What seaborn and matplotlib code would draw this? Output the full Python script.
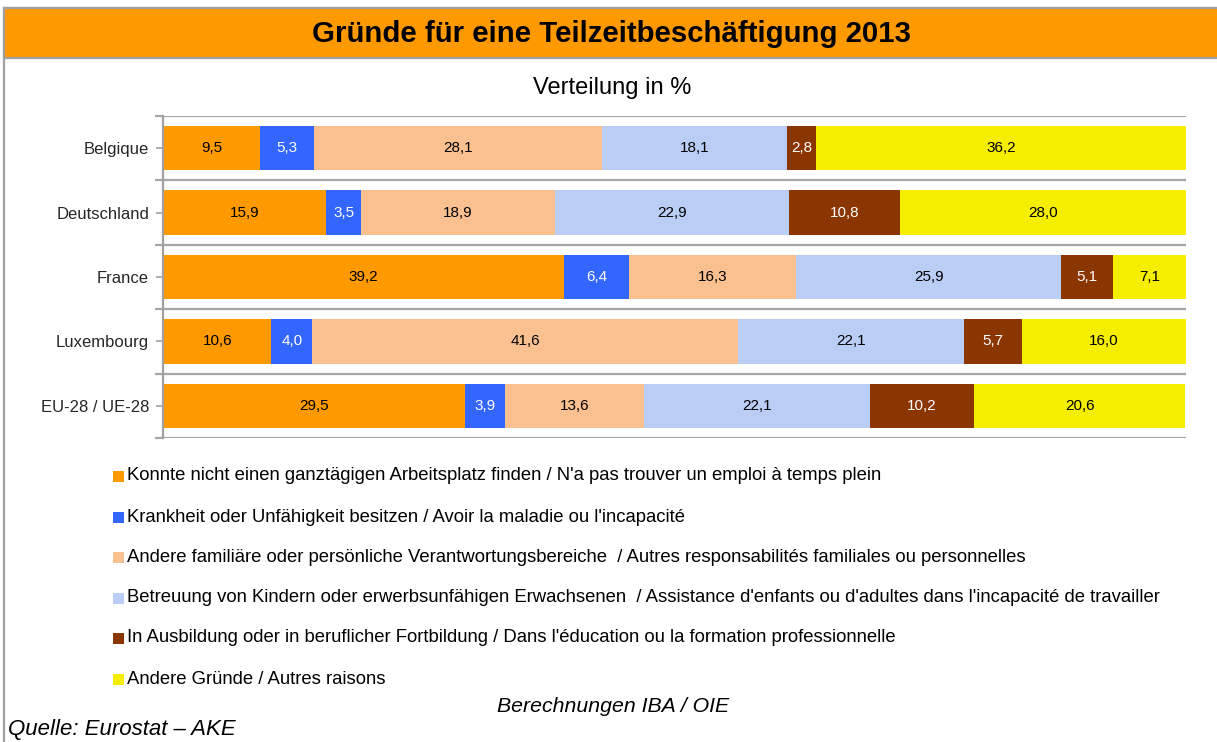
import matplotlib
matplotlib.use("Agg")
import matplotlib.pyplot as plt
from matplotlib.patches import Rectangle
import numpy as np
import pandas as pd
import seaborn as sns

sns.set_theme(style="white")
plt.rcParams['font.family'] = ['Liberation Sans', 'DejaVu Sans']

countries = ["Belgique", "Deutschland", "France", "Luxembourg", "EU-28 / UE-28"]
series_names = [
    "Konnte nicht einen ganztägigen Arbeitsplatz finden / N'a pas trouver un emploi à temps plein",
    "Krankheit oder Unfähigkeit besitzen / Avoir la maladie ou l'incapacité",
    "Andere familiäre oder persönliche Verantwortungsbereiche  / Autres responsabilités familiales ou personnelles",
    "Betreuung von Kindern oder erwerbsunfähigen Erwachsenen  / Assistance d'enfants ou d'adultes dans l'incapacité de travailler",
    "In Ausbildung oder in beruflicher Fortbildung / Dans l'éducation ou la formation professionnelle",
    "Andere Gründe / Autres raisons",
]
job_not_found = [9.5, 15.9, 39.2, 10.6, 29.5]
illness = [5.3, 3.5, 6.4, 4.0, 3.9]
family = [28.1, 18.9, 16.3, 41.6, 13.6]
care = [18.1, 22.9, 25.9, 22.1, 22.1]
education = [2.8, 10.8, 5.1, 5.7, 10.2]
other = [36.2, 28.0, 7.1, 16.0, 20.6]

colors = ["#FF9900", "#3366FF", "#FAC090", "#B9CDF5", "#8B3500", "#F5EE00"]
label_colors = ["black", "white", "black", "black", "white", "black"]

series = [job_not_found, illness, family, care, education, other]
df = pd.DataFrame({"country": countries})
for name, vals in zip(series_names, series):
    df[name] = vals
cum = df[series_names].cumsum(axis=1)

W, H = 1217, 742
fig = plt.figure(figsize=(W / 100, H / 100), dpi=100)

# frame / title bar
fig.patches.append(Rectangle((4 / W, -0.1), 1.2, 1.1 - 8 / H, transform=fig.transFigure,
                             facecolor="white", edgecolor="#A0A0A0", linewidth=1.6, zorder=-5))
fig.patches.append(Rectangle((4 / W, 1 - 58 / H), 1.2, 50 / H, transform=fig.transFigure,
                             facecolor="#FF9900", edgecolor="#A0A0A0", linewidth=1.6, zorder=-4))
fig.text(612 / W, 1 - 34 / H, "Gründe für eine Teilzeitbeschäftigung 2013", ha="center", va="center",
         fontsize=21.2, fontweight="bold", color="black")
fig.text(612 / W, 1 - 88 / H, "Verteilung in %", ha="center", va="center", fontsize=17, color="black")

ax = fig.add_axes([163 / W, 1 - 438 / H, (1186 - 163) / W, (438 - 116) / H])
ax.patch.set_alpha(0)

for i in range(len(series_names) - 1, -1, -1):
    sns.barplot(data=cum, x=series_names[i], y=df["country"], orient="h", color=colors[i],
                width=0.69, saturation=1, ax=ax, linewidth=0)

for i, name in enumerate(series_names):
    starts = cum[name] - df[name]
    for j, v in enumerate(df[name]):
        ax.text(starts[j] + v / 2, j, f"{v:.1f}".replace(".", ","), ha="center", va="center",
                fontsize=11, color=label_colors[i])

ax.set_xlim(0, 100)
ax.set_ylim(len(countries) - 0.5, -0.5)
ax.set_xlabel("")
ax.set_ylabel("")
ax.set_xticks([])
ax.set_yticks(range(len(countries)))
ax.set_yticklabels(countries, fontsize=12)
ax.set_yticks(np.arange(-0.5, len(countries), 1), minor=True)
ax.tick_params(axis="y", which="major", length=5, width=1.2, color="#A0A0A0", pad=5, left=True)
ax.tick_params(axis="y", which="minor", length=6, width=1.6, color="#A6A6A6", left=True)
ax.grid(False)
ax.yaxis.grid(True, which="minor", color="#A6A6A6", linewidth=1.6)
ax.set_axisbelow(True)
for s in ["top", "right", "bottom"]:
    ax.spines[s].set_visible(False)
ax.spines["left"].set_color("#A0A0A0")
ax.spines["left"].set_linewidth(1.6)

# legend
ys = [476, 517, 557, 598, 638, 679]
for y, c, name in zip(ys, colors, series_names):
    fig.patches.append(Rectangle((113 / W, 1 - (y + 6) / H), 11 / W, 11 / H, transform=fig.transFigure,
                                 facecolor=c, edgecolor="none"))
    fig.text(127 / W, 1 - y / H, name, ha="left", va="center", fontsize=13.3, color="black")

fig.text(613 / W, 1 - 706 / H, "Berechnungen IBA / OIE", ha="center", va="center", fontsize=15.3,
         style="italic", color="black")
fig.text(8 / W, 1 - 730 / H, "Quelle: Eurostat – AKE", ha="left", va="center", fontsize=16,
         style="italic", color="black")

fig.savefig("out.png", dpi=100)
